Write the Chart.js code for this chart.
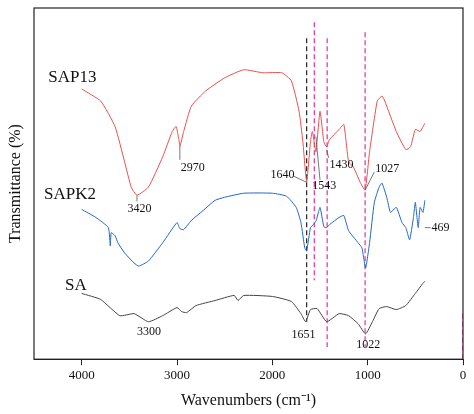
<!DOCTYPE html>
<html><head><meta charset="utf-8">
<script src="https://cdn.jsdelivr.net/npm/chart.js@4/dist/chart.umd.min.js"></script>
<style>html,body{margin:0;background:#fff}#wrap{width:474px;height:414px}</style>
</head><body><div id="wrap"><canvas id="c"></canvas></div>
<script>
// wavenumbers (cm-1) and transmittance (image-offset units, larger = lower on plot)
const sap13X = [4000,3800,3650,3550,3480,3420,3300,3150,3050,3010,2980,2970,2930,2850,2700,2500,2300,2100,1900,1800,1720,1680,1640,1600,1580,1543,1500,1460,1430,1400,1300,1250,1200,1150,1080,1027,980,900,850,820,700,600,550,500,450,400];
const sap13Y = [88,100,125,160,185,193,185,155,130,125,138,145,130,105,90,77,69,72,72,80,110,140,180,140,130,150,110,140,145,138,128,123,160,165,180,188,150,100,95,100,130,148,145,128,130,122];
const sapk2X = [4000,3850,3720,3700,3690,3650,3620,3550,3450,3400,3300,3150,3000,2970,2930,2850,2750,2600,2500,2300,2000,1850,1750,1700,1660,1640,1600,1570,1540,1500,1460,1430,1400,1300,1250,1200,1100,1060,1022,980,930,880,850,800,760,700,640,600,560,520,500,470,450,420,400];
const sapk2Y = [207,215,225,243,230,233,240,250,260,263,258,240,220,226,227,218,210,198,195,191,191,194,205,220,245,248,225,222,218,205,224,225,222,215,213,228,240,245,265,240,200,185,181,195,210,205,220,225,237,215,200,225,205,210,198];
const saX = [4000,3800,3600,3450,3300,3150,3000,2950,2900,2800,2600,2400,2360,2300,2000,1800,1700,1651,1600,1530,1430,1300,1200,1100,1022,950,880,800,700,600,500,420,400];
const saY = [290,296,312,310,318,312,304,308,309,302,297,292,297,292,293,298,310,318,306,305,318,310,312,320,330,318,305,303,306,302,290,280,278];
const xTicks = [4000,3000,2000,1000,0];
// reference lines: [wavenumber, top, bottom, colour]
const refLines = [[1640,38,318,'#222'],[1560,22,277,'#e0309a'],[1425,38,343,'#e0309a'],[1027,32,343,'#e0309a'],[2,310,355,'#e0309a']];
// annotation text: [text, wavenumber, y, size]
const labels = [['SAP13',4350,77,17],['SAPK2',4395,192,17],['SA',4175,282,17],
  ['2970',2960,166,12],['3420',3520,206,12],['1640',2020,173,12],['1543',1580,184,12],
  ['1430',1400,163,12],['1027',920,167,12],['469',330,225,12],['3300',3420,328,12],
  ['1651',1800,331,12],['1022',1120,341,12]];
// leader lines: [x1,y1,x2,y2] in data units
const leaders = [[2970,145,2970,158],[3420,193,3420,199],[1780,174,1645,180],[1543,135,1500,178],
  [1430,148,1410,156],[1027,188,930,170],[400,225,340,225]];

function line(x, y, color) {
  return { data: x.map((v, i) => ({x: v, y: y[i]})), borderColor: color, borderWidth: 1, pointRadius: 0, tension: 0.15, fill: false };
}
const datasets = [line(sap13X, sap13Y, '#e8504c'), line(sapk2X, sapk2Y, '#1f66c9'), line(saX, saY, '#444')];
refLines.forEach(r => datasets.push({ data: [{x: r[0], y: r[1]}, {x: r[0], y: r[2]}], borderColor: r[3], borderWidth: 1.2, borderDash: [5, 3], pointRadius: 0 }));

const deco = {
  id: 'deco',
  afterDatasetsDraw(chart) {
    const {ctx, chartArea: a, scales: {x, y}} = chart;
    ctx.save();
    ctx.strokeStyle = '#555'; ctx.lineWidth = 0.8;
    leaders.forEach(l => { ctx.beginPath(); ctx.moveTo(x.getPixelForValue(l[0]), y.getPixelForValue(l[1])); ctx.lineTo(x.getPixelForValue(l[2]), y.getPixelForValue(l[3])); ctx.stroke(); });
    ctx.fillStyle = '#111'; ctx.textAlign = 'left'; ctx.textBaseline = 'middle';
    labels.forEach(t => { ctx.font = t[3] + 'px "Liberation Serif"'; ctx.fillText(t[0], x.getPixelForValue(t[1]), y.getPixelForValue(t[2])); });
    ctx.strokeStyle = '#222'; ctx.lineWidth = 1.2;
    ctx.strokeRect(a.left, a.top, a.right - a.left, a.bottom - a.top);
    ctx.translate(16, (a.top + a.bottom) / 2); ctx.rotate(-Math.PI / 2);
    ctx.font = '16px "Liberation Serif"'; ctx.textAlign = 'center';
    ctx.fillText('Transmittance (%)', 0, 0);
    ctx.restore();
  }
};

new Chart(document.getElementById('c'), {
  type: 'line',
  data: { datasets },
  options: {
    responsive: true, maintainAspectRatio: false, animation: false,
    layout: { padding: { left: 34, right: 11, top: 8 } },
    plugins: { legend: { display: false }, tooltip: { enabled: false } },
    scales: {
      x: { type: 'linear', reverse: true, min: 0, max: 4500,
        afterBuildTicks: s => { s.ticks = xTicks.map(v => ({value: v})); },
        grid: { drawOnChartArea: false, tickLength: 6, color: '#222' }, border: { color: '#222' },
        ticks: { color: '#111', font: { family: 'Liberation Serif', size: 13 }, maxRotation: 0, callback: v => String(v) },
        title: { display: true, text: 'Wavenumbers (cm⁻¹)', color: '#111', font: { family: 'Liberation Serif', size: 16 }, padding: { top: 4 } } },
      y: { display: false, reverse: true, min: 8, max: 355 }
    }
  },
  plugins: [deco]
});
</script></body></html>
